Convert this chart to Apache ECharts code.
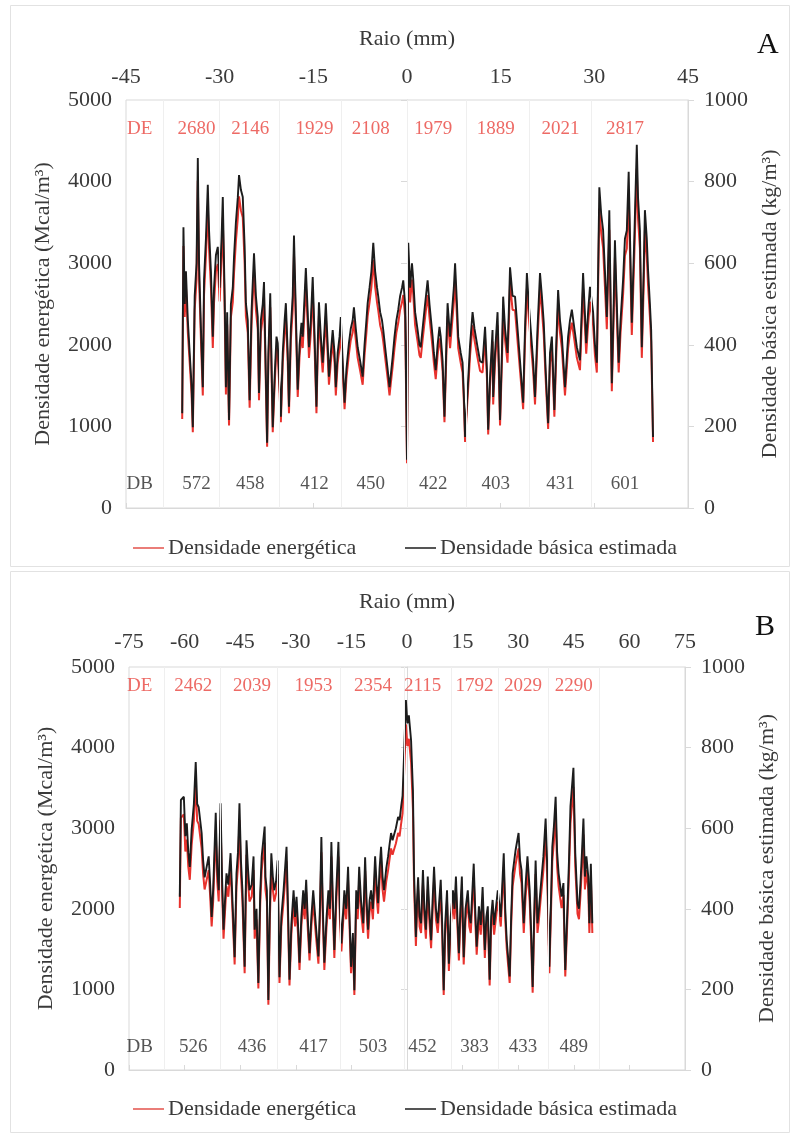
<!DOCTYPE html>
<html>
<head>
<meta charset="utf-8">
<script src="https://cdn.jsdelivr.net/npm/echarts@6/dist/echarts.min.js"></script>
<style>
  html, body { margin: 0; padding: 0; background: #fff; }
  #chart { width: 798px; height: 1135px; }
</style>
</head>
<body>
<div id="chart"></div>
<script>
// ---- Perfil A: raio (mm), densidade básica estimada (kg/m3), densidade energética (Mcal/m3)
const radiusA = [
  -36.0,-35.8,-35.6,-35.4,-35.1,-34.8,-34.5,-34.3,-34.0,-33.7,
  -33.5,-33.3,-33.0,-32.7,-32.5,-32.2,-31.9,-31.7,-31.4,-31.1,
  -30.9,-30.6,-30.3,-30.0,-29.7,-29.5,-29.2,-29.0,-28.8,-28.5,
  -28.2,-27.9,-27.7,-27.4,-27.1,-26.9,-26.6,-26.3,-26.0,-25.8,
  -25.5,-25.2,-24.9,-24.5,-24.2,-23.9,-23.7,-23.4,-23.1,-22.9,
  -22.7,-22.4,-22.2,-21.9,-21.7,-21.5,-21.2,-20.9,-20.7,-20.4,
  -20.2,-19.9,-19.6,-19.4,-19.1,-18.9,-18.6,-18.3,-18.1,-17.8,
  -17.5,-17.2,-16.9,-16.7,-16.4,-16.2,-15.9,-15.7,-15.4,-15.1,
  -14.8,-14.5,-14.3,-14.1,-13.8,-13.5,-13.2,-13.0,-12.7,-12.5,
  -12.2,-11.9,-11.6,-11.4,-11.1,-10.8,-10.6,-10.3,-10.0,-9.7,
  -9.3,-9.0,-8.7,-8.5,-8.2,-7.9,-7.5,-7.1,-6.8,-6.5,
  -6.3,-6.0,-5.7,-5.4,-5.1,-4.8,-4.6,-4.3,-4.0,-3.8,
  -3.4,-3.1,-2.8,-2.5,-2.3,-2.0,-1.7,-1.4,-1.1,-0.8,
  -0.6,-0.3,0.0,0.2,0.5,0.8,1.0,1.3,1.7,2.0,
  2.2,2.5,2.9,3.3,3.6,4.1,4.3,4.6,4.9,5.2,
  5.4,5.7,6.0,6.3,6.5,6.7,6.9,7.2,7.5,7.7,
  8.0,8.2,8.6,8.9,9.1,9.3,9.6,9.8,10.1,10.5,
  10.8,11.3,11.7,12.1,12.5,12.8,13.0,13.3,13.7,13.8,
  14.1,14.5,14.7,14.9,15.2,15.4,15.7,16.1,16.3,16.5,
  16.9,17.3,17.8,18.2,18.6,18.9,19.2,19.5,19.9,20.2,
  20.5,20.9,21.3,21.6,21.9,22.2,22.6,22.9,23.2,23.6,
  23.9,24.2,24.5,24.8,25.3,25.8,26.1,26.4,26.8,27.2,
  27.7,28.2,28.7,29.0,29.3,29.8,30.1,30.4,30.8,31.1,
  31.4,31.7,32.0,32.4,32.6,32.8,33.1,33.3,33.6,33.9,
  34.2,34.6,34.9,35.2,35.5,35.8,36.0,36.4,36.8,37.0,
  37.3,37.6,37.9,38.1,38.4,38.6,38.9,39.1,39.4
];
const dbA = [
  232,688,500,580,460,380,300,198,520,600,
  858,600,440,296,560,660,792,680,580,420,
  540,620,640,540,660,762,520,296,480,216,
  500,540,616,700,760,816,780,762,640,502,
  460,264,480,624,520,468,282,460,500,554,
  400,160,380,526,360,198,320,420,404,300,
  224,380,460,502,380,248,440,520,668,480,
  290,400,454,420,520,588,480,394,460,566,
  420,248,400,504,420,356,440,502,400,322,
  380,436,380,296,380,420,468,360,258,340,
  404,440,460,492,440,394,360,322,400,460,
  502,540,580,650,580,540,518,480,460,436,
  380,340,296,340,370,420,460,486,520,540,
  558,500,118,650,540,600,560,480,436,400,
  394,440,500,558,500,420,380,338,400,444,
  420,360,224,400,502,460,420,480,540,600,
  500,420,380,356,280,174,260,314,400,480,
  440,394,360,356,444,340,192,320,436,272,
  380,480,360,216,380,518,440,380,480,590,
  520,518,420,340,258,440,576,500,420,360,
  272,440,576,520,454,340,208,380,420,240,
  400,534,460,420,296,420,460,486,440,394,
  362,576,404,480,542,480,400,356,786,720,
  682,580,468,730,520,306,500,656,500,356,
  460,558,660,680,824,600,454,660,890,760,
  680,394,580,730,660,584,500,436,174
];
const deA = [
  1090,3210,2340,2710,2150,1780,1400,930,2430,2800,
  4010,2810,2060,1380,2620,3090,3700,3180,2710,1960,
  2520,2900,2990,2530,3080,3560,2430,1390,2250,1010,
  2340,2520,2880,3270,3550,3820,3650,3560,2990,2350,
  2150,1230,2240,2920,2430,2190,1320,2150,2340,2590,
  1870,750,1780,2460,1680,930,1500,1960,1890,1400,
  1050,1780,2150,2350,1780,1160,2060,2430,3120,2240,
  1360,1870,2120,1960,2430,2750,2240,1840,2150,2650,
  1960,1160,1870,2360,1960,1660,2060,2350,1870,1510,
  1780,2040,1780,1380,1780,1960,2190,1680,1210,1590,
  1890,2060,2150,2300,2060,1840,1680,1510,1870,2150,
  2350,2520,2710,3040,2710,2520,2420,2240,2150,2040,
  1780,1590,1380,1590,1730,1960,2150,2270,2430,2520,
  2610,2340,550,3040,2520,2800,2620,2240,2040,1870,
  1840,2060,2340,2610,2340,1960,1780,1580,1870,2080,
  1960,1680,1050,1870,2350,2150,1960,2240,2520,2800,
  2340,1960,1780,1660,1310,810,1220,1470,1870,2240,
  2060,1840,1680,1660,2080,1590,900,1500,2040,1270,
  1780,2240,1680,1010,1780,2420,2060,1780,2240,2760,
  2430,2420,1960,1590,1210,2060,2690,2340,1960,1680,
  1270,2060,2690,2430,2120,1590,970,1780,1960,1120,
  1870,2500,2150,1960,1380,1960,2150,2270,2060,1840,
  1690,2690,1890,2240,2530,2240,1870,1660,3670,3370,
  3190,2710,2190,3410,2430,1430,2340,3070,2340,1660,
  2150,2610,3090,3180,3850,2810,2120,3090,4160,3550,
  3180,1840,2710,3410,3090,2730,2340,2040,810
];
// Médias por faixa de raio (A)
const segCenterA = [-33.7, -25.1, -14.8, -5.8, 4.2, 14.2, 24.6, 34.9];
const segDeA = [2680, 2146, 1929, 2108, 1979, 1889, 2021, 2817];
const segDbA = [572, 458, 412, 450, 422, 403, 431, 601];
const segEdgesA = [-39, -30, -20.5, -10.5, 0, 9.5, 19.5, 29.5];

// ---- Perfil B
const radiusB = [
  -61.3,-61.0,-60.2,-59.8,-59.4,-59.0,-58.6,-58.1,-57.5,-57.0,
  -56.6,-56.2,-55.4,-55.0,-54.6,-53.5,-53.1,-52.7,-52.3,-51.6,
  -51.2,-50.8,-50.3,-49.9,-49.5,-49.1,-48.7,-48.2,-47.6,-47.0,
  -46.5,-46.0,-45.6,-45.2,-44.8,-44.4,-43.8,-43.3,-42.9,-42.5,
  -41.9,-41.4,-41.1,-40.6,-40.1,-39.6,-39.2,-38.4,-38.2,-37.8,
  -37.4,-37.0,-36.6,-36.2,-35.8,-35.3,-34.9,-34.4,-33.9,-33.3,
  -32.9,-32.5,-32.1,-31.7,-31.2,-30.6,-30.2,-29.8,-29.4,-29.0,
  -28.5,-28.0,-27.6,-27.2,-26.8,-26.3,-25.8,-25.3,-24.6,-23.9,
  -23.5,-23.1,-22.7,-22.3,-21.7,-21.2,-20.8,-20.4,-20.0,-19.6,
  -19.1,-18.5,-18.1,-17.7,-17.3,-16.9,-16.4,-15.9,-15.5,-15.1,
  -14.6,-14.2,-13.7,-13.3,-12.9,-12.4,-11.8,-11.3,-10.9,-10.5,
  -10.1,-9.7,-9.2,-8.6,-8.2,-7.8,-7.4,-7.0,-6.6,-6.2,
  -5.6,-5.1,-4.7,-4.3,-3.9,-3.5,-3.0,-2.4,-2.0,-1.6,
  -1.2,-0.8,-0.3,0.1,0.5,1.1,1.6,1.9,2.4,2.7,
  3.0,3.4,3.8,4.3,4.7,5.1,5.6,6.0,6.5,6.9,
  7.3,7.8,8.3,8.7,9.1,9.5,9.9,10.3,10.8,11.3,
  11.8,12.4,12.8,13.2,13.6,14.0,14.4,14.8,15.3,15.8,
  16.4,16.8,17.2,18.0,18.4,18.8,19.4,19.9,20.4,21.0,
  21.4,21.8,22.3,22.7,23.1,23.5,23.9,24.5,25.3,26.1,
  26.5,26.9,27.7,28.1,28.5,29.3,30.1,30.5,30.9,31.5,
  32.0,32.5,33.1,33.5,33.9,34.3,34.7,35.2,35.6,36.0,
  36.8,37.4,37.9,38.4,38.8,39.2,39.6,40.1,40.5,40.9,
  41.7,42.2,42.7,43.3,43.7,44.1,44.9,45.4,46.0,46.4,
  46.8,47.2,47.6,48.0,48.4,48.9,49.2,49.6,50.0
];
const dbB = [
  430,670,678,580,612,540,504,596,660,764,
  660,652,588,520,478,530,460,380,446,638,
  500,446,662,480,348,420,488,460,538,400,
  280,488,540,662,520,446,256,570,500,446,
  460,530,348,400,216,440,530,604,480,446,
  174,400,538,480,446,470,520,230,380,446,
  500,554,400,224,360,446,380,430,360,266,
  380,446,400,472,380,290,380,446,360,282,
  400,578,400,266,380,446,400,566,420,298,
  440,566,400,314,380,446,400,504,380,256,
  340,198,446,400,504,420,364,528,420,348,
  420,446,400,530,460,414,500,554,480,446,
  500,530,560,588,570,570,600,628,620,652,
  680,780,918,860,880,818,694,488,330,420,
  478,380,364,496,400,348,480,400,322,420,
  504,400,364,420,472,360,198,360,446,264,
  380,446,400,480,380,290,400,480,280,400,
  446,380,364,512,400,306,406,360,454,298,
  380,406,224,380,422,360,364,446,380,538,
  400,322,232,380,488,546,588,520,496,364,
  460,530,446,340,206,380,520,364,400,446,
  530,624,488,256,400,554,600,678,540,488,
  430,464,248,406,520,654,750,538,414,400,
  464,540,624,480,530,480,364,512,364
];
const deB = [
  2010,3130,3170,2710,2860,2520,2360,2790,3090,3570,
  3090,3050,2750,2430,2240,2480,2150,1780,2090,2980,
  2340,2090,3100,2240,1630,1960,2280,2150,2520,1870,
  1310,2280,2520,3100,2430,2090,1200,2670,2340,2090,
  2150,2480,1630,1870,1010,2060,2480,2820,2240,2090,
  810,1870,2520,2240,2090,2200,2430,1080,1780,2090,
  2340,2590,1870,1050,1680,2090,1780,2010,1680,1240,
  1780,2090,1870,2210,1780,1360,1780,2090,1680,1320,
  1870,2700,1870,1240,1780,2090,1870,2650,1960,1390,
  2060,2650,1870,1470,1780,2090,1870,2360,1780,1200,
  1590,930,2090,1870,2360,1960,1700,2470,1960,1630,
  1960,2090,1870,2480,2150,1940,2340,2590,2240,2090,
  2340,2480,2620,2750,2670,2670,2810,2940,2900,3050,
  3180,3650,4290,4020,4110,3820,3240,2280,1540,1960,
  2240,1780,1700,2320,1870,1630,2240,1870,1510,1960,
  2360,1870,1700,1960,2210,1680,930,1680,2090,1230,
  1780,2090,1870,2240,1780,1360,1870,2240,1310,1870,
  2090,1780,1700,2390,1870,1430,1900,1680,2120,1390,
  1780,1900,1050,1780,1970,1680,1700,2090,1780,2520,
  1870,1510,1080,1780,2280,2550,2750,2430,2320,1700,
  2150,2480,2090,1590,960,1780,2430,1700,1870,2090,
  2480,2920,2280,1200,1870,2590,2810,3170,2520,2280,
  2010,2170,1160,1900,2430,3060,3510,2520,1940,1870,
  2170,2520,2920,2240,2480,2240,1700,2390,1700
];
// Médias por faixa de raio (B)
const segCenterB = [-57.7, -41.8, -25.2, -9.2, 4.2, 18.2, 31.3, 45.0];
const segDeB = [2462, 2039, 1953, 2354, 2115, 1792, 2029, 2290];
const segDbB = [526, 436, 417, 503, 452, 383, 433, 489];
const segEdgesB = [-65.5, -50.5, -35, -18, -0.8, 12, 24.5, 38, 52];

const xTicks = 15;
const deTicks = 1000;
const dbTicks = 200;

// ---- drawing
const FONT = 'Liberation Serif';
const RED = '#e8322d';
const BLACK = '#1c1c1c';
const GRIDLINE = '#d9d9d9';
const LABEL = '#3a3a3a';
const NAME_DE = 'Densidade energética';
const NAME_DB = 'Densidade básica estimada';

const chart = echarts.init(document.getElementById('chart'), null, { renderer: 'canvas' });

function pairs(xs, ys) { return xs.map((x, i) => [x, ys[i]]); }
const plain = v => String(v);

function xAxisFor(gridIndex, lim, labelMargin, nameGap) {
  return {
    type: 'value', gridIndex, position: 'top',
    min: -lim, max: lim, interval: xTicks,
    name: 'Raio (mm)', nameLocation: 'middle', nameGap,
    nameTextStyle: { fontFamily: FONT, fontSize: 22, color: LABEL },
    axisLine: { show: true, lineStyle: { color: GRIDLINE } },
    axisTick: { show: true, length: 5, lineStyle: { color: GRIDLINE } },
    axisLabel: { fontFamily: FONT, fontSize: 22, color: LABEL, margin: labelMargin, formatter: plain },
    splitLine: { show: false }
  };
}

function yAxesFor(gridIndex) {
  const common = {
    type: 'value', gridIndex, nameLocation: 'middle', nameGap: 72,
    nameTextStyle: { fontFamily: FONT, fontSize: 22, color: LABEL },
    axisLine: { show: true, lineStyle: { color: GRIDLINE } },
    axisTick: { show: true, length: 6, lineStyle: { color: GRIDLINE } },
    splitLine: { show: false }
  };
  return [
    Object.assign({}, common, {
      position: 'left', min: 0, max: 5000, interval: deTicks,
      name: 'Densidade energética (Mcal/m³)',
      axisLabel: { fontFamily: FONT, fontSize: 22, color: LABEL, margin: 14, formatter: plain }
    }),
    Object.assign({}, common, {
      position: 'right', min: 0, max: 1000, interval: dbTicks,
      name: 'Densidade básica estimada (kg/m³)', nameGap: 70,
      axisLabel: { fontFamily: FONT, fontSize: 22, color: LABEL, margin: 16, formatter: plain }
    })
  ];
}

function panelSeries(axisIndex, radius, de, db, centers, segDe, segDb, edges, headerX, deRowY, dbRowY) {
  const yLeft = axisIndex * 2, yRight = axisIndex * 2 + 1;
  const textRow = (vals, rowY, color, head) => [
    { value: [headerX, rowY], label: { formatter: head } }
  ].concat(centers.map((x, i) => ({ value: [x, rowY], label: { formatter: String(vals[i]) } })))
   .map(d => Object.assign(d, { label: Object.assign(d.label, { color }) }));
  return [
    {
      name: NAME_DE, type: 'line', xAxisIndex: axisIndex, yAxisIndex: yLeft,
      data: pairs(radius, de), symbol: 'none', z: 2,
      lineStyle: { color: RED, width: 2 }, itemStyle: { color: RED },
      markLine: {
        silent: true, symbol: ['none', 'none'], label: { show: false },
        lineStyle: { color: '#efefef', type: 'solid', width: 1 },
        data: edges.map(x => ({ xAxis: x }))
      }
    },
    {
      name: NAME_DB, type: 'line', xAxisIndex: axisIndex, yAxisIndex: yRight,
      data: pairs(radius, db), symbol: 'none', z: 3,
      lineStyle: { color: BLACK, width: 1.9 }, itemStyle: { color: BLACK }
    },
    {
      type: 'scatter', xAxisIndex: axisIndex, yAxisIndex: yLeft, silent: true,
      symbolSize: 1, itemStyle: { color: 'rgba(0,0,0,0)' }, z: 5,
      label: { show: true, position: 'inside', fontFamily: FONT, fontSize: 19 },
      data: textRow(segDe, deRowY, '#e8453f', 'DE').concat(textRow(segDb, dbRowY, '#2a2a2a', 'DB'))
    }
  ];
}

function legendItem(name, color, left, top) {
  return {
    data: [{ name, icon: 'rect', itemStyle: { color } }],
    left, top, padding: 0, itemWidth: 31, itemHeight: 2, itemGap: 0,
    textStyle: { fontFamily: FONT, fontSize: 22, color: LABEL, padding: [0, 0, 0, -1] },
    selectedMode: false
  };
}

const option = {
  animation: false,
  backgroundColor: '#ffffff',
  grid: [
    { left: 126, top: 100, width: 562, height: 408, show: true, borderColor: GRIDLINE, borderWidth: 1 },
    { left: 129, top: 667, width: 556, height: 403, show: true, borderColor: GRIDLINE, borderWidth: 1 }
  ],
  xAxis: [ xAxisFor(0, 45, 12, 50), xAxisFor(1, 75, 14, 54) ],
  yAxis: yAxesFor(0).concat(yAxesFor(1)),
  legend: [
    legendItem(NAME_DE, '#ea7d78', 133, 537),
    legendItem(NAME_DB, '#555555', 405, 537),
    legendItem(NAME_DE, '#ea7d78', 133, 1098),
    legendItem(NAME_DB, '#555555', 405, 1098)
  ],
  series: [].concat(
    panelSeries(0, radiusA, deA, dbA, segCenterA, segDeA, segDbA, segEdgesA, -42.8, 4650, 300),
    panelSeries(1, radiusB, deB, dbB, segCenterB, segDeB, segDbB, segEdgesB, -72.1, 4770, 290)
  ),
  graphic: [
    { type: 'rect', z: -1, shape: { x: 10.5, y: 5.5, width: 779, height: 561 },
      style: { fill: 'none', stroke: '#e2e2e2', lineWidth: 1 } },
    { type: 'rect', z: -1, shape: { x: 10.5, y: 571.5, width: 779, height: 561 },
      style: { fill: 'none', stroke: '#e2e2e2', lineWidth: 1 } },
    { type: 'text', left: 757, top: 30, style: { text: 'A', font: '30px "Liberation Serif"', fill: '#111' } },
    { type: 'text', left: 755, top: 612, style: { text: 'B', font: '30px "Liberation Serif"', fill: '#111' } }
  ]
};

chart.setOption(option);
</script>
</body>
</html>
